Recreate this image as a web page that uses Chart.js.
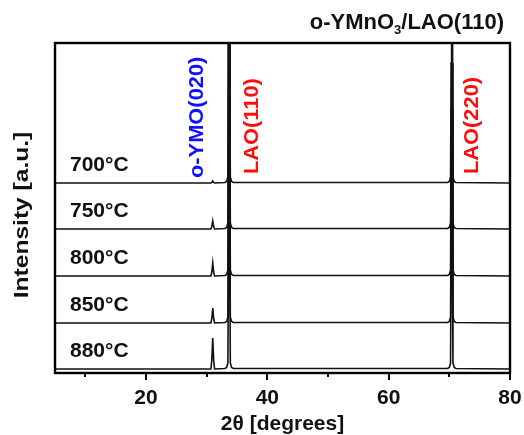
<!DOCTYPE html>
<html>
<head>
<meta charset="utf-8">
<script src="https://cdn.jsdelivr.net/npm/chart.js@4.4.1/dist/chart.umd.min.js"></script>
<style>
  html, body { margin: 0; padding: 0; background: #fff; }
  canvas { display: block; }
</style>
</head>
<body>
<canvas id="xrd" width="524" height="435"></canvas>
<script>
// 2theta sample points (degrees)
const twoTheta = [5, 30.7, 30.85, 31.0, 31.15, 31.3, 33.0, 33.3, 33.5, 33.6, 33.7, 33.8, 33.9, 34.1, 34.4,
                  69.7, 70.0, 70.2, 70.3, 70.4, 70.5, 70.6, 70.8, 71.1, 80];

// intensities (a.u.) for each anneal temperature
const i700 = [0, 0, 0.6, 2, 0.6, 0, 0.5, 1.5, 6, 120, 1000, 120, 6, 1.5, 0.5, 0.5, 1.5, 6, 120, 1000, 120, 6, 1.5, 0.5, 0];
const i750 = [0, 0, 2.4, 8, 2.4, 0, 0.5, 1.5, 6, 120, 1000, 120, 6, 1.5, 0.5, 0.5, 1.5, 6, 120, 1000, 120, 6, 1.5, 0.5, 0];
const i800 = [0, 0, 4, 13, 4, 0, 0.5, 1.5, 6, 120, 1000, 120, 6, 1.5, 0.5, 0.5, 1.5, 6, 120, 1000, 120, 6, 1.5, 0.5, 0];
const i850 = [0, 0, 4.5, 15, 4.5, 0, 0.5, 1.5, 6, 120, 1000, 120, 6, 1.5, 0.5, 0.5, 1.5, 6, 120, 1000, 120, 6, 1.5, 0.5, 0];
const i880 = [0, 0, 9, 31, 9, 0, 0.5, 1.5, 6, 120, 1000, 120, 6, 1.5, 0.5, 0.5, 1.5, 6, 120, 1000, 120, 6, 1.5, 0.5, 0];

const temps = ['700°C', '750°C', '800°C', '850°C', '880°C'];
const patterns = [i700, i750, i800, i850, i880];
const offsets = [190, 144, 97, 50, 4];   // vertical stacking shift

// peak labels
const peakNames = ['o-YMO(020)', 'LAO(110)', 'LAO(220)'];
const peakPos = [31.0, 33.7, 70.4];
const peakColors = ['#1010ff', '#ff0d0d', '#ff0d0d'];

const xTicks = [10, 20, 30, 40, 50, 60, 70, 80];

const FONT = '"Liberation Sans", Arial, sans-serif';

const datasets = patterns.map((p, k) => ({
  label: temps[k],
  data: twoTheta.map((t, i) => ({ x: t, y: p[i] + offsets[k] })),
  borderColor: '#111',
  borderWidth: 1.6,
  pointRadius: 0,
  tension: 0,
  fill: false
}));

// frame, ticks and the text on the plot
const decorations = {
  id: 'decorations',
  afterDraw(chart) {
    const { ctx, chartArea: a, scales: { x, y } } = chart;
    ctx.save();

    // box
    ctx.strokeStyle = '#000';
    ctx.lineWidth = 2.4;
    ctx.strokeRect(a.left, a.top, a.right - a.left, a.bottom - a.top);

    // x ticks, outward
    ctx.lineWidth = 2;
    xTicks.forEach(v => {
      const px = Math.round(x.getPixelForValue(v));
      ctx.beginPath();
      ctx.moveTo(px, a.bottom);
      ctx.lineTo(px, a.bottom + (v % 20 === 0 ? 7 : 4));
      ctx.stroke();
    });

    // temperature labels
    ctx.fillStyle = '#111';
    ctx.font = 'bold 21px ' + FONT;
    ctx.textAlign = 'left';
    ctx.textBaseline = 'middle';
    temps.forEach((t, k) => {
      ctx.fillText(t, a.left + 15, y.getPixelForValue(offsets[k]) - 18);
    });

    // peak labels, rotated
    const base = y.getPixelForValue(offsets[0]);
    const dx = [-16, 23, 20];
    const lift = [5, 9, 9];
    ctx.font = 'bold 21px ' + FONT;
    peakNames.forEach((n, k) => {
      ctx.save();
      ctx.translate(x.getPixelForValue(peakPos[k]) + dx[k], base - lift[k]);
      ctx.rotate(-Math.PI / 2);
      ctx.scale(1.04, 1);
      ctx.fillStyle = peakColors[k];
      ctx.textAlign = 'left';
      ctx.textBaseline = 'middle';
      ctx.fillText(n, 0, 0);
      ctx.restore();
    });

    // y title
    ctx.save();
    ctx.translate(22, (a.top + a.bottom) / 2 + 7);
    ctx.rotate(-Math.PI / 2);
    ctx.scale(1.17, 1);
    ctx.fillStyle = '#111';
    ctx.font = 'bold 21px ' + FONT;
    ctx.textAlign = 'center';
    ctx.textBaseline = 'middle';
    ctx.fillText('Intensity [a.u.]', 0, 0);
    ctx.restore();

    // title with subscript
    ctx.fillStyle = '#111';
    ctx.textBaseline = 'alphabetic';
    ctx.textAlign = 'left';
    const big = 'bold 22px ' + FONT, small = 'bold 13px ' + FONT;
    const parts = [['o-YMnO', big, 0], ['3', small, 5], ['/LAO(110)', big, 0]];
    let w = 0;
    parts.forEach(p => { ctx.font = p[1]; w += ctx.measureText(p[0]).width; });
    let cx = 504 - w;
    parts.forEach(p => {
      ctx.font = p[1];
      ctx.fillText(p[0], cx, 29 + p[2]);
      cx += ctx.measureText(p[0]).width;
    });

    ctx.restore();
  }
};

new Chart(document.getElementById('xrd'), {
  type: 'line',
  data: { datasets },
  options: {
    responsive: false,
    animation: false,
    devicePixelRatio: 1,
    layout: { padding: { left: 55, right: 14, top: 43, bottom: 0 } },
    plugins: { legend: { display: false }, tooltip: { enabled: false } },
    scales: {
      x: {
        type: 'linear',
        min: 5,
        max: 80,
        grid: { display: false, drawTicks: false },
        border: { display: false },
        afterBuildTicks: s => { s.ticks = xTicks.map(v => ({ value: v })); },
        afterFit: s => { s.height = 62; s.paddingLeft = 0; s.paddingRight = 0; },
        ticks: {
          autoSkip: false,
          maxRotation: 0,
          padding: 13,
          color: '#111',
          font: { family: FONT, size: 21, weight: 'bold' },
          callback: v => (v % 20 === 0 ? String(v) : '')
        },
        title: {
          display: true,
          text: '2θ [degrees]',
          color: '#111',
          font: { family: FONT, size: 21, weight: 'bold' },
          padding: { top: 0, bottom: -2 }
        }
      },
      y: {
        display: false,
        min: 0,
        max: 330
      }
    }
  },
  plugins: [decorations]
});
</script>
</body>
</html>
